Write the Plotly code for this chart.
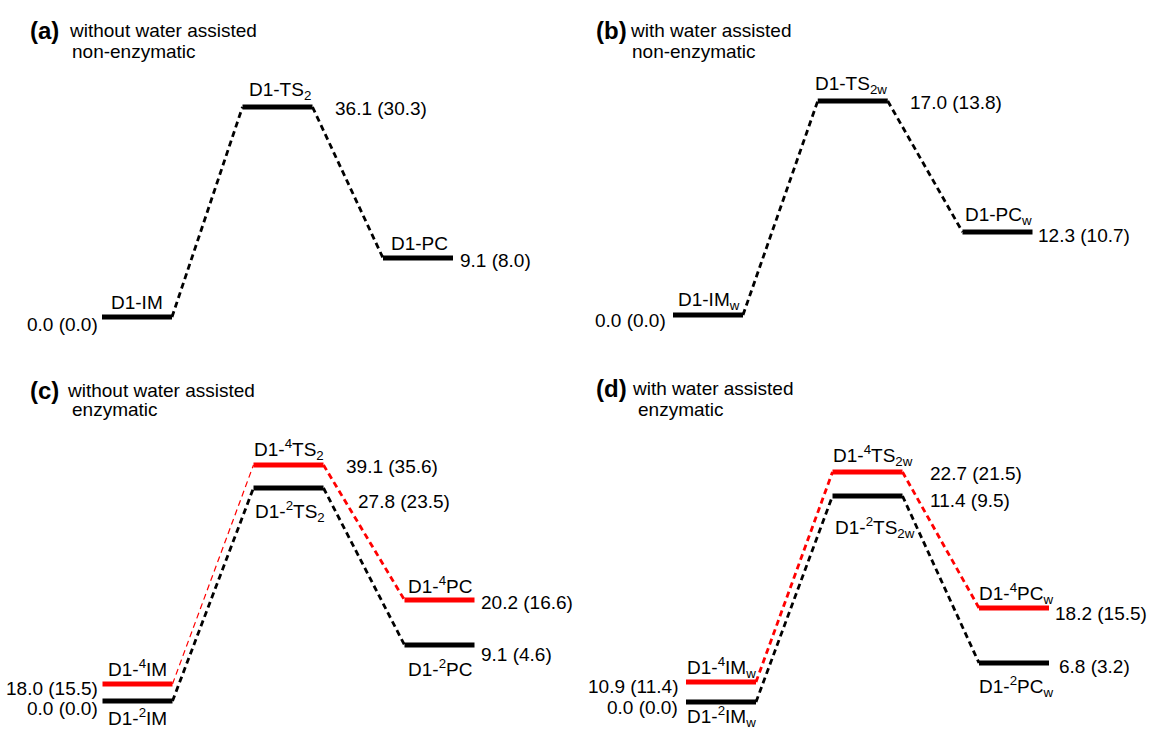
import plotly.graph_objects as go

W, H = 1149, 729
FONT = "Arial, 'Liberation Sans', Helvetica, sans-serif"
BLACK = "#000000"
RED = "#ff0000"

# ---------------- data ----------------
# energies: value and value in parentheses; LEVEL = schematic display height read
# from the diagram (the diagram is not drawn to scale)
A_STATES = ["D1-IM", "D1-TS<sub>2</sub>", "D1-PC"]
A_E = [0.0, 36.1, 9.1]
A_E_PAREN = [0.0, 30.3, 8.0]
A_LEVEL = [0, 210, 59]

B_STATES = ["D1-IM<sub>w</sub>", "D1-TS<sub>2w</sub>", "D1-PC<sub>w</sub>"]
B_E = [0.0, 17.0, 12.3]
B_E_PAREN = [0.0, 13.8, 10.7]
B_LEVEL = [0, 214, 83]

C_STATES_2 = ["D1-<sup>2</sup>IM", "D1-<sup>2</sup>TS<sub>2</sub>", "D1-<sup>2</sup>PC"]
C_E_2 = [0.0, 27.8, 9.1]
C_E_PAREN_2 = [0.0, 23.5, 4.6]
C_LEVEL_2 = [0, 213, 56]
C_STATES_4 = ["D1-<sup>4</sup>IM", "D1-<sup>4</sup>TS<sub>2</sub>", "D1-<sup>4</sup>PC"]
C_E_4 = [18.0, 39.1, 20.2]
C_E_PAREN_4 = [15.5, 35.6, 16.6]
C_LEVEL_4 = [17, 236, 101]

D_STATES_2 = ["D1-<sup>2</sup>IM<sub>w</sub>", "D1-<sup>2</sup>TS<sub>2w</sub>", "D1-<sup>2</sup>PC<sub>w</sub>"]
D_E_2 = [0.0, 11.4, 6.8]
D_E_PAREN_2 = [0.0, 9.5, 3.2]
D_LEVEL_2 = [0, 206, 39]
D_STATES_4 = ["D1-<sup>4</sup>IM<sub>w</sub>", "D1-<sup>4</sup>TS<sub>2w</sub>", "D1-<sup>4</sup>PC<sub>w</sub>"]
D_E_4 = [10.9, 22.7, 18.2]
D_E_PAREN_4 = [11.4, 21.5, 15.5]
D_LEVEL_4 = [20, 230, 94]

PANEL_TAGS = ["(a)", "(b)", "(c)", "(d)"]
PANEL_LINE1 = ["without water assisted", "with water assisted",
               "without water assisted", "with water assisted"]
PANEL_LINE2 = ["non-enzymatic", "non-enzymatic", "enzymatic", "enzymatic"]

STAGES = [0, 1, 2]

# ---------------- geometry (pixels) ----------------
# quadrant (x0, x1, y0, y1), first stage centre, stage spacing, baseline pixel
GEOM = [
    dict(box=(0, 575, 0, 364), c0=137, s=140.5, base=317),
    dict(box=(575, 1149, 0, 364), c0=708, s=144.75, base=315),
    dict(box=(0, 575, 364, 729), c0=137.5, s=151, base=701),
    dict(box=(575, 1149, 364, 729), c0=721, s=146.5, base=702),
]
HALF_PX = 35
LEVEL_W = 5
CONN_W = 2.8
DASH = "6px,4px"

fig = go.Figure()
layout = dict(width=W, height=H, margin=dict(l=0, r=0, t=0, b=0, pad=0),
              paper_bgcolor="white", plot_bgcolor="white", showlegend=False)

for i, g in enumerate(GEOM):
    x0, x1, y0, y1 = g["box"]
    n = "" if i == 0 else str(i + 1)
    layout["xaxis" + n] = dict(domain=[x0 / W, x1 / W],
                               range=[(x0 - g["c0"]) / g["s"], (x1 - g["c0"]) / g["s"]],
                               visible=False, anchor="y" + n, fixedrange=True)
    layout["yaxis" + n] = dict(domain=[1 - y1 / H, 1 - y0 / H],
                               range=[g["base"] - y1, g["base"] - y0],
                               visible=False, anchor="x" + n, fixedrange=True)
fig.update_layout(**layout)

annotations = []


def axes(p):
    n = "" if p == 0 else str(p + 1)
    return "x" + n, "y" + n


def draw_path(p, levels, color, conn_widths):
    xa, ya = axes(p)
    hw = HALF_PX / GEOM[p]["s"]
    for k in range(len(STAGES) - 1):
        fig.add_trace(go.Scatter(
            x=[STAGES[k] + hw, STAGES[k + 1] - hw], y=[levels[k], levels[k + 1]],
            mode="lines", line=dict(color=color, width=conn_widths[k], dash=DASH),
            xaxis=xa, yaxis=ya, hoverinfo="skip"))
    for k in STAGES:
        fig.add_trace(go.Scatter(
            x=[k - hw, k + hw], y=[levels[k], levels[k]], mode="lines",
            line=dict(color=color, width=LEVEL_W), xaxis=xa, yaxis=ya,
            hoverinfo="skip"))


def txt(p, k, level, text, where, dx, dy, size=19):
    """where: 'above'/'below' (centred), 'left' (right aligned at left end),
    'right' (left aligned at right end)."""
    xa, ya = axes(p)
    hw = HALF_PX / GEOM[p]["s"]
    if where in ("above", "below"):
        x, xanchor = STAGES[k], "center"
    elif where == "left":
        x, xanchor = STAGES[k] - hw, "right"
    else:
        x, xanchor = STAGES[k] + hw, "left"
    annotations.append(dict(x=x, y=level, xref=xa, yref=ya, text=text,
                            showarrow=False, xanchor=xanchor, yanchor="middle",
                            xshift=dx, yshift=dy,
                            font=dict(family=FONT, size=size, color=BLACK)))


def etext(e, ep):
    return f"{e:.1f} ({ep:.1f})"


# ---- panel a ----
draw_path(0, A_LEVEL, BLACK, [CONN_W, CONN_W])
txt(0, 0, A_LEVEL[0], A_STATES[0], "above", 0, 15)
txt(0, 0, A_LEVEL[0], etext(A_E[0], A_E_PAREN[0]), "left", -2, -7)
txt(0, 1, A_LEVEL[1], A_STATES[1], "above", 2, 16)
txt(0, 1, A_LEVEL[1], etext(A_E[1], A_E_PAREN[1]), "right", 20, -1)
txt(0, 2, A_LEVEL[2], A_STATES[2], "above", 1, 15)
txt(0, 2, A_LEVEL[2], etext(A_E[2], A_E_PAREN[2]), "right", 5, -2)

# ---- panel b ----
draw_path(1, B_LEVEL, BLACK, [CONN_W, CONN_W])
txt(1, 0, B_LEVEL[0], B_STATES[0], "above", 1, 14)
txt(1, 0, B_LEVEL[0], etext(B_E[0], B_E_PAREN[0]), "left", -5, -5)
txt(1, 1, B_LEVEL[1], B_STATES[1], "above", -2, 16)
txt(1, 1, B_LEVEL[1], etext(B_E[1], B_E_PAREN[1]), "right", 20, -1)
txt(1, 2, B_LEVEL[2], B_STATES[2], "above", 1, 16)
txt(1, 2, B_LEVEL[2], etext(B_E[2], B_E_PAREN[2]), "right", 3, -3)

# ---- panel c ----
draw_path(2, C_LEVEL_2, BLACK, [CONN_W, CONN_W])
draw_path(2, C_LEVEL_4, RED, [1.2, CONN_W])
txt(2, 0, C_LEVEL_4[0], C_STATES_4[0], "above", 0, 16)
txt(2, 0, C_LEVEL_4[0], etext(C_E_4[0], C_E_PAREN_4[0]), "left", -3, -4)
txt(2, 0, C_LEVEL_2[0], etext(C_E_2[0], C_E_PAREN_2[0]), "left", -3, -7)
txt(2, 0, C_LEVEL_2[0], C_STATES_2[0], "below", 0, -16)
txt(2, 1, C_LEVEL_4[1], C_STATES_4[1], "above", 0, 16)
txt(2, 1, C_LEVEL_4[1], etext(C_E_4[1], C_E_PAREN_4[1]), "right", 20, -1)
txt(2, 1, C_LEVEL_2[1], C_STATES_2[1], "below", 1, -23)
txt(2, 1, C_LEVEL_2[1], etext(C_E_2[1], C_E_PAREN_2[1]), "right", 32, -13)
txt(2, 2, C_LEVEL_4[2], C_STATES_4[2], "above", 0, 15)
txt(2, 2, C_LEVEL_4[2], etext(C_E_4[2], C_E_PAREN_4[2]), "right", 4, -2)
txt(2, 2, C_LEVEL_2[2], etext(C_E_2[2], C_E_PAREN_2[2]), "right", 4, -9)
txt(2, 2, C_LEVEL_2[2], C_STATES_2[2], "below", 0, -23)

# ---- panel d ----
draw_path(3, D_LEVEL_2, BLACK, [CONN_W, CONN_W])
draw_path(3, D_LEVEL_4, RED, [CONN_W, CONN_W])
txt(3, 0, D_LEVEL_4[0], D_STATES_4[0], "above", 0, 15)
txt(3, 0, D_LEVEL_4[0], etext(D_E_4[0], D_E_PAREN_4[0]), "left", -6, -4)
txt(3, 0, D_LEVEL_2[0], etext(D_E_2[0], D_E_PAREN_2[0]), "left", -6, -5)
txt(3, 0, D_LEVEL_2[0], D_STATES_2[0], "below", 0, -14)
txt(3, 1, D_LEVEL_4[1], D_STATES_4[1], "above", 5, 17)
txt(3, 1, D_LEVEL_4[1], etext(D_E_4[1], D_E_PAREN_4[1]), "right", 25, -1)
txt(3, 1, D_LEVEL_2[1], D_STATES_2[1], "below", 7, -31)
txt(3, 1, D_LEVEL_2[1], etext(D_E_2[1], D_E_PAREN_2[1]), "right", 25, -4)
txt(3, 2, D_LEVEL_4[2], D_STATES_4[2], "above", 2, 15)
txt(3, 2, D_LEVEL_4[2], etext(D_E_4[2], D_E_PAREN_4[2]), "right", 4, -5)
txt(3, 2, D_LEVEL_2[2], etext(D_E_2[2], D_E_PAREN_2[2]), "right", 8, -3)
txt(3, 2, D_LEVEL_2[2], D_STATES_2[2], "below", 2, -23)

# ---- panel titles (paper positions, px) ----
TITLE_POS = [(28, 30, 67, 70, 52), (594, 30, 628, 630, 52),
             (28, 390, 65, 70, 409), (594, 388, 630, 636, 409)]
for p, (tx, ty, l1x, l2x, l2y) in enumerate(TITLE_POS):
    annotations.append(dict(x=tx / W, y=1 - ty / H, xref="paper", yref="paper",
                            text="<b>" + PANEL_TAGS[p] + "</b>", showarrow=False,
                            xanchor="left", yanchor="middle",
                            font=dict(family=FONT, size=24, color=BLACK)))
    annotations.append(dict(x=l1x / W, y=1 - ty / H, xref="paper", yref="paper",
                            text=PANEL_LINE1[p], showarrow=False,
                            xanchor="left", yanchor="middle",
                            font=dict(family=FONT, size=19, color=BLACK)))
    annotations.append(dict(x=l2x / W, y=1 - l2y / H, xref="paper", yref="paper",
                            text=PANEL_LINE2[p], showarrow=False,
                            xanchor="left", yanchor="middle",
                            font=dict(family=FONT, size=19, color=BLACK)))

fig.update_layout(annotations=annotations)
fig.write_html("out.html")
